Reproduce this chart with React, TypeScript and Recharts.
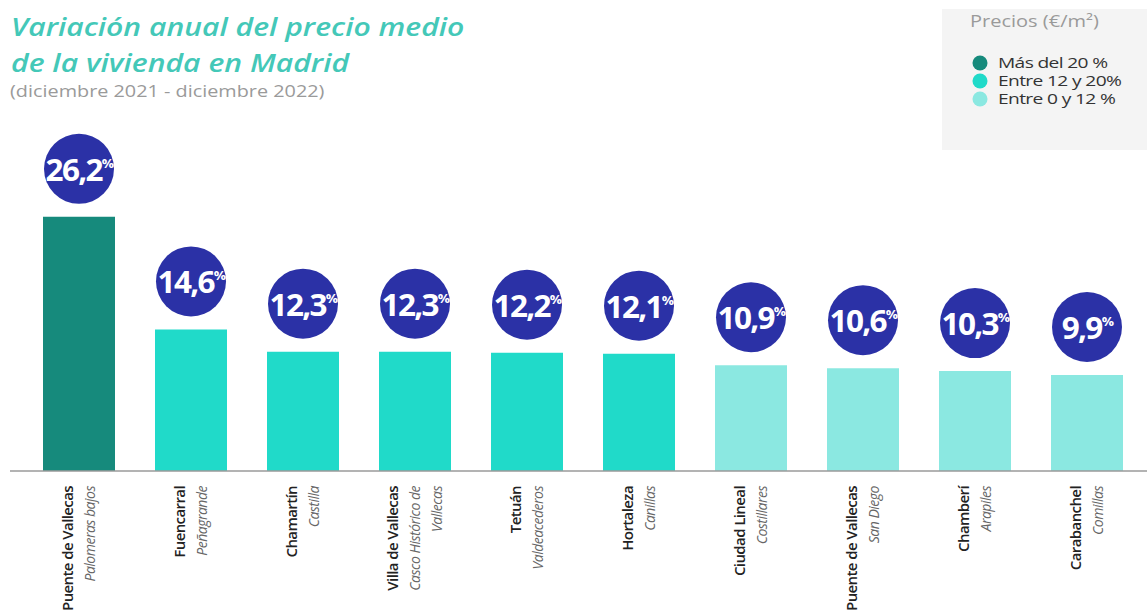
import { BarChart, Bar, XAxis, YAxis, Cell, LabelList } from 'recharts';

// Distrito / barrio y variación anual (%)
const districts = [
  'Puente de Vallecas',
  'Fuencarral',
  'Chamartín',
  'Villa de Vallecas',
  'Tetuán',
  'Hortaleza',
  'Ciudad Lineal',
  'Puente de Vallecas',
  'Chamberí',
  'Carabanchel',
];
const barrios = [
  ['Palomeras bajos'],
  ['Peñagrande'],
  ['Castilla'],
  ['Casco Histórico de', 'Vallecas'],
  ['Valdeacederos'],
  ['Canillas'],
  ['Costillares'],
  ['San Diego'],
  ['Arapiles'],
  ['Comillas'],
];
const variation = [26.2, 14.6, 12.3, 12.3, 12.2, 12.1, 10.9, 10.6, 10.3, 9.9];

const legendLabels = ['Más del 20 %', 'Entre 12 y 20%', 'Entre 0 y 12 %'];
const legendColors = ['#168a7c', '#20dac9', '#8be8e1'];

const CIRCLE = '#2b31a6';
const FONT = "'Open Sans', sans-serif";

const colorFor = (v: number) => (v > 20 ? legendColors[0] : v >= 12 ? legendColors[1] : legendColors[2]);

const data = variation.map((v, i) => ({ key: `${i}`, value: v }));

const fmt = (v: number) => v.toFixed(1).replace('.', ',');

// Etiqueta: círculo azul con el porcentaje
const BubbleLabel = (props: any) => {
  const { x, y, width, value } = props;
  const cx = x + width / 2;
  const cy = y - 48;
  return (
    <g>
      <circle cx={cx} cy={cy} r={35} fill={CIRCLE} />
      <g transform={`translate(${cx},${cy + 12}) scale(1.05,1)`}>
        <text
          x={0}
          y={0}
          textAnchor="middle"
          fill="#fff"
          fontFamily={FONT}
          fontWeight={700}
          fontSize={30}
          letterSpacing={-1.6}
        >
          {fmt(value)}
          <tspan fontSize={13} dy={-13}>%</tspan>
        </text>
      </g>
    </g>
  );
};

const DistrictTick = (props: any) => {
  const { x, y, payload } = props;
  const i = Number(payload.value);
  const lines = [districts[i], ...barrios[i]];
  const n = lines.length;
  return (
    <g transform={`translate(${x},${y + 15})`}>
      {lines.map((line, k) => (
        <text
          key={k}
          transform="rotate(-90)"
          x={0}
          y={(k - (n - 1) / 2) * 22 + 5}
          textAnchor="end"
          fontFamily={FONT}
          fontSize={k === 0 ? 15 : 14}
          fontWeight={k === 0 ? 600 : 400}
          fontStyle={k === 0 ? 'normal' : 'italic'}
          letterSpacing={k === 0 ? -0.6 : -0.5}
          fill={k === 0 ? '#222' : '#666'}
        >
          {line}
        </text>
      ))}
    </g>
  );
};

export default function App() {
  return (
    <div
      style={{
        position: 'absolute',
        left: 0,
        top: 0,
        width: 1147,
        height: 615,
        background: '#fff',
        overflow: 'hidden',
      }}
    >
      <BarChart
        width={1147}
        height={615}
        data={data}
        margin={{ top: 180, right: 0, left: 10, bottom: 0 }}
        barSize={72}
      >
        <XAxis
          dataKey="key"
          height={144}
          interval={0}
          tickLine={false}
          tickSize={0}
          tickMargin={0}
          axisLine={{ stroke: '#9a9a9a', strokeWidth: 1.5 }}
          padding={{ left: 13, right: 4 }}
          tick={<DistrictTick />}
        />
        <YAxis hide domain={[0, 30]} />
        <Bar dataKey="value" isAnimationActive={false}>
          {data.map((d) => (
            <Cell key={d.key} fill={colorFor(d.value)} />
          ))}
          <LabelList dataKey="value" content={<BubbleLabel />} />
        </Bar>
      </BarChart>

      <svg
        width={1147}
        height={160}
        style={{ position: 'absolute', left: 0, top: 0, pointerEvents: 'none' }}
      >
        <g transform="translate(11,0) scale(1.205,1)" fill="#44c8b8" fontFamily={FONT} fontStyle="italic" fontWeight={600} fontSize={25}>
          <text x={0} y={36}>Variación anual del precio medio</text>
          <text x={0} y={72}>de la vivienda en Madrid</text>
        </g>
        <g transform="translate(10,0) scale(1.24,1)">
          <text x={0} y={97} fill="#9a9a9a" fontFamily={FONT} fontSize={16}>
            (diciembre 2021 - diciembre 2022)
          </text>
        </g>

        <rect x={942} y={9} width={205} height={141} fill="#f4f4f4" />
        <g transform="translate(970,0) scale(1.25,1)">
          <text x={0} y={27} fill="#9a9a9a" fontFamily={FONT} fontSize={16}>
            Precios (€/m²)
          </text>
        </g>
        {legendLabels.map((l, i) => (
          <g key={l}>
            <circle cx={980} cy={63 + i * 18} r={7.5} fill={legendColors[i]} />
            <g transform={`translate(998,${68 + i * 18}) scale(1.28,1)`}>
              <text x={0} y={0} fill="#333" fontFamily={FONT} fontSize={15} letterSpacing={-0.5}>
                {l}
              </text>
            </g>
          </g>
        ))}
      </svg>
    </div>
  );
}
